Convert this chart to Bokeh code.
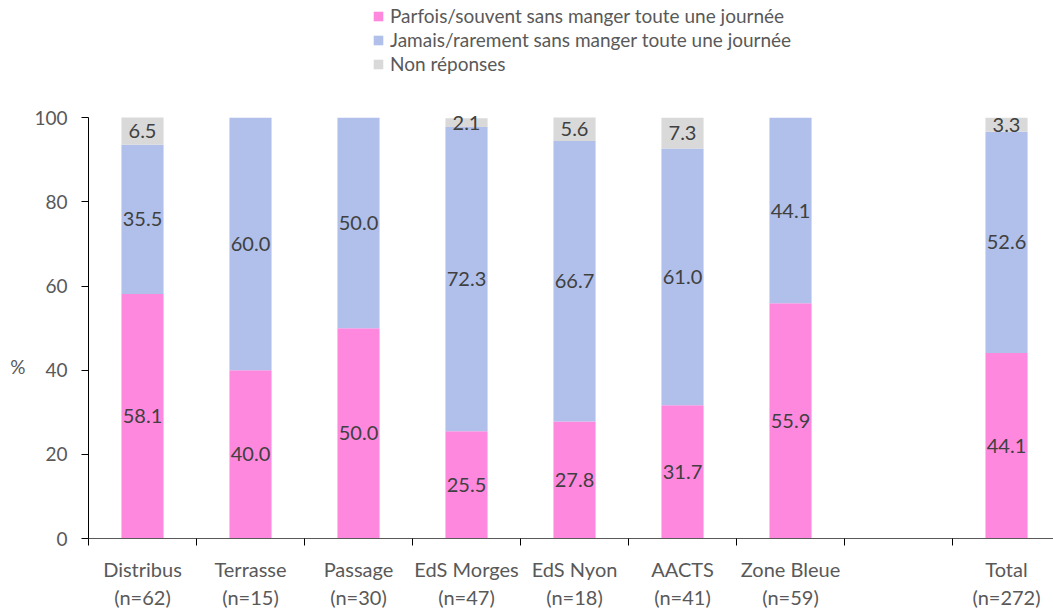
from bokeh.plotting import figure
from bokeh.models import ColumnDataSource, Range1d, FixedTicker, Legend, LegendItem, LabelSet
from bokeh.core.properties import value
from bokeh.embed import file_html
from bokeh.resources import INLINE

categories = ["Distribus\n(n=62)", "Terrasse\n(n=15)", "Passage\n(n=30)", "EdS Morges\n(n=47)",
              "EdS Nyon\n(n=18)", "AACTS\n(n=41)", "Zone Bleue\n(n=59)", " ", "Total\n(n=272)"]
parfois = [58.1, 40.0, 50.0, 25.5, 27.8, 31.7, 55.9, None, 44.1]
jamais = [35.5, 60.0, 50.0, 72.3, 66.7, 61.0, 44.1, None, 52.6]
nonrep = [6.5, 0.0, 0.0, 2.1, 5.6, 7.3, 0.0, None, 3.3]
series_names = ["Parfois/souvent sans manger toute une journée",
                "Jamais/rarement sans manger toute une journée",
                "Non réponses"]
colors = ["#FF88DF", "#B0C0EA", "#D9D9D9"]

FONT = "Lato"
TXT = "#595959"

# frame spans from canvas top down to the x axis; the value axis stops at 100
p = figure(width=1053, height=612, output_backend="svg", toolbar_location=None,
           x_range=Range1d(0.5, 9.435), y_range=Range1d(0, 127.9),
           min_border_left=88, min_border_right=0, min_border_top=0, min_border_bottom=71)
p.outline_line_color = None
p.grid.grid_line_color = None

idx = [i for i, v in enumerate(parfois) if v is not None]
x = [i + 1 for i in idx]
b1 = [parfois[i] for i in idx]
b2 = [jamais[i] for i in idx]
b3 = [nonrep[i] for i in idx]
top2 = [a + b for a, b in zip(b1, b2)]
top3 = [a + b for a, b in zip(top2, b3)]

src = ColumnDataSource(dict(x=x, b0=[0] * len(x), t1=b1, t2=top2, t3=top3))
W = 0.39
r1 = p.vbar(x="x", bottom="b0", top="t1", width=W, fill_color=colors[0], line_color=None, source=src)
r2 = p.vbar(x="x", bottom="t1", top="t2", width=W, fill_color=colors[1], line_color=None, source=src)
r3 = p.vbar(x="x", bottom="t2", top="t3", width=W, fill_color=colors[2], line_color=None, source=src)

lab_x, lab_y, lab_t = [], [], []
for xi, a, b, c, t2 in zip(x, b1, b2, b3, top2):
    lab_x += [xi, xi]
    lab_y += [a / 2, a + b / 2]
    lab_t += [f"{a:.1f}", f"{b:.1f}"]
    if c > 0:
        lab_x.append(xi)
        lab_y.append(t2 + c / 2)
        lab_t.append(f"{c:.1f}")
lsrc = ColumnDataSource(dict(x=lab_x, y=lab_y, t=lab_t))
p.add_layout(LabelSet(x="x", y="y", text="t", source=lsrc, text_align="center",
                      text_baseline="middle", text_font=value(FONT), text_font_size="20px",
                      text_color="#404040"))

# x axis
p.xaxis.ticker = FixedTicker(ticks=[i + 1 for i in range(9)], minor_ticks=[i + 0.5 for i in range(10)])
p.xaxis.major_label_overrides = {i + 1: c for i, c in enumerate(categories)}
p.xaxis.major_tick_out = 0
p.xaxis.major_tick_in = 0
p.xaxis.minor_tick_out = 7
p.xaxis.minor_tick_in = 0
p.xaxis.minor_tick_line_color = "#000000"
p.xaxis.axis_line_color = "#595959"
p.xaxis.major_label_text_font = FONT
p.xaxis.major_label_text_font_size = "20px"
p.xaxis.major_label_text_color = TXT
p.xaxis.major_label_standoff = 11

# y axis
p.yaxis.ticker = FixedTicker(ticks=[0, 20, 40, 60, 80, 100])
p.yaxis.bounds = (0, 100)
p.yaxis.minor_tick_line_color = None
p.yaxis.major_tick_out = 7
p.yaxis.major_tick_in = 0
p.yaxis.axis_line_color = "#000000"
p.yaxis.major_tick_line_color = "#000000"
p.yaxis.major_label_text_font = FONT
p.yaxis.major_label_text_font_size = "19px"
p.yaxis.major_label_text_color = TXT
p.yaxis.major_label_standoff = 14
p.yaxis.axis_label = "\n\n\n\n\n\n\n%"
p.yaxis.axis_label_orientation = "horizontal"
p.yaxis.axis_label_text_font = FONT
p.yaxis.axis_label_text_font_size = "19px"
p.yaxis.axis_label_text_font_style = "normal"
p.yaxis.axis_label_text_color = TXT
p.yaxis.axis_label_standoff = 6

legend = Legend(items=[LegendItem(label=series_names[0], renderers=[r1]),
                       LegendItem(label=series_names[1], renderers=[r2]),
                       LegendItem(label=series_names[2], renderers=[r3])],
                location=(284, 463), orientation="vertical",
                label_text_font=FONT, label_text_font_size="19px", label_text_color=TXT,
                glyph_width=12, glyph_height=12, label_standoff=6, spacing=1,
                padding=0, margin=0, border_line_color=None, background_fill_alpha=0,
                label_height=20)
p.add_layout(legend)

open("out.html", "w").write(file_html(p, INLINE))
